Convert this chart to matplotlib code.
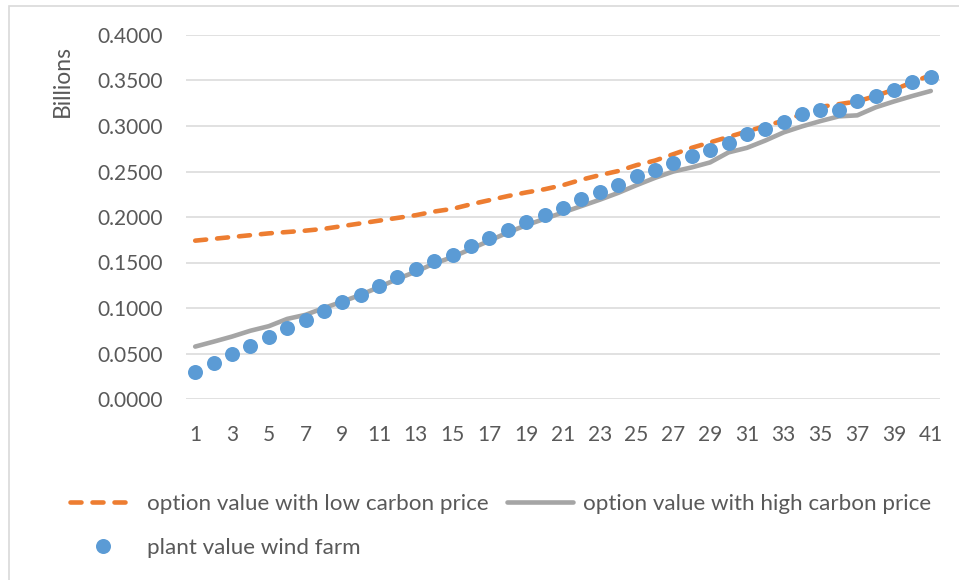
import matplotlib
matplotlib.use('Agg')
import matplotlib.pyplot as plt
from matplotlib.patches import Rectangle
from matplotlib.ticker import FormatStrFormatter
import numpy as np

# Values in billions, one per year 1..41
years = list(range(1, 42))
low_carbon = [0.174, 0.176, 0.178, 0.180, 0.182, 0.1835, 0.185, 0.187, 0.190, 0.193,
              0.196, 0.199, 0.202, 0.206, 0.209, 0.214, 0.2185, 0.223, 0.227, 0.2305,
              0.235, 0.241, 0.246, 0.2505, 0.257, 0.262, 0.269, 0.276, 0.282, 0.288,
              0.294, 0.300, 0.306, 0.313, 0.321, 0.324, 0.327, 0.333, 0.340, 0.348,
              0.356]
high_carbon = [0.0576, 0.063, 0.0686, 0.075, 0.080, 0.088, 0.0925, 0.100, 0.107, 0.1145,
               0.123, 0.132, 0.140, 0.149, 0.156, 0.165, 0.174, 0.183, 0.191, 0.198,
               0.205, 0.212, 0.219, 0.2265, 0.235, 0.243, 0.250, 0.2545, 0.260, 0.271,
               0.276, 0.284, 0.293, 0.2996, 0.3054, 0.3106, 0.3117, 0.3205, 0.327, 0.333,
               0.3385]
plant_value = [0.030, 0.040, 0.0496, 0.0587, 0.0686, 0.0778, 0.087, 0.097, 0.1065, 0.1145,
               0.1245, 0.1336, 0.143, 0.152, 0.1586, 0.1677, 0.177, 0.186, 0.195, 0.2026,
               0.210, 0.220, 0.227, 0.2357, 0.245, 0.252, 0.2596, 0.2668, 0.274, 0.281,
               0.291, 0.297, 0.304, 0.313, 0.3175, 0.318, 0.327, 0.333, 0.340, 0.348,
               0.354]
labels = ['option value with low carbon price',
          'option value with high carbon price',
          'plant value wind farm']

orange = '#ED7D31'
grey = '#A5A5A5'
blue = '#5B9BD5'
txt = '#595959'

plt.rcParams['font.family'] = ['Lato', 'DejaVu Sans']
plt.rcParams['font.size'] = 15

W, H = 959, 580
fig = plt.figure(figsize=(W / 100, H / 100), dpi=100)
ax = fig.add_axes([186 / W, 1 - 399 / H, 754 / W, 364 / H])

# chart frame
fig.patches.append(Rectangle((9 / W, -0.1), 1.2, 1 - 6 / H + 0.1, transform=fig.transFigure,
                             fill=False, ec='#D9D9D9', lw=1.2, zorder=0))

lw_line = 3.3
l1, = ax.plot(years, low_carbon, color=orange, lw=lw_line, ls=(0, (2.4, 2.4)),
              dash_capstyle='round', zorder=3)
l2, = ax.plot(years, high_carbon, color=grey, lw=lw_line, solid_capstyle='round', zorder=2)
l3, = ax.plot(years, plant_value, 'o', color=blue, ms=10.8, mec=blue, mew=0, zorder=4)

ax.set_xlim(0.5, 41.5)
ax.set_ylim(0, 0.4)
ax.set_yticks(np.arange(0, 0.4001, 0.05))
ax.yaxis.set_major_formatter(FormatStrFormatter('%.4f'))
ax.set_xticks(years[::2])
ax.grid(axis='y', color='#D9D9D9', lw=1.1)
ax.set_axisbelow(True)
for s in ax.spines.values():
    s.set_visible(False)
ax.tick_params(length=0, colors=txt, labelsize=15)
ax.tick_params(axis='y', pad=17)
ax.tick_params(axis='x', pad=19)

fig.text(62 / W, 1 - 81 / H, 'Billions', rotation=90, ha='center', va='center',
         color=txt, fontsize=16.5)

leg = fig.legend([l1, l3, l2], [labels[0], labels[2], labels[1]], ncol=2,
                 loc='upper left', bbox_to_anchor=(50 / W, 1 - 474 / H),
                 frameon=False, handlelength=2.95, handletextpad=0.49,
                 columnspacing=0.8, labelspacing=1.05, fontsize=16.1)
for t in leg.get_texts():
    t.set_color(txt)

fig.savefig('out.png', dpi=100)
